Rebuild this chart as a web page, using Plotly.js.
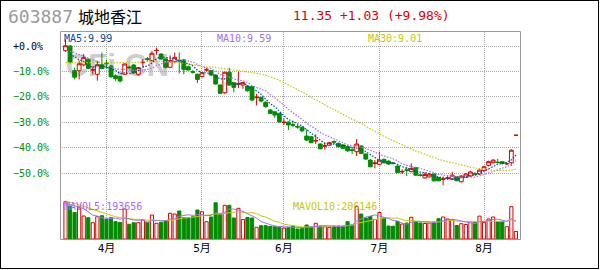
<!DOCTYPE html>
<html>
<head>
<meta charset="utf-8">
<script src="https://cdn.plot.ly/plotly-3.0.1.min.js"></script>
<style>
  html, body { margin: 0; padding: 0; background: #ffffff; }
  #wrap { position: relative; width: 600px; height: 270px; }
  #chart { width: 600px; height: 270px; }
  #edge { position: absolute; left: 0; top: 0; width: 597px; height: 267px;
          border: 1px solid #000000; pointer-events: none; }
</style>
</head>
<body>
<div id="wrap"><div id="chart"></div><div id="edge"></div></div>
<script>
// ---- daily quotes, 603887 城地香江 (oldest first) ----
const opens = [
  17.18,17.50,15.80,15.80,16.20,16.58,15.84,15.55,16.20,16.32,
  16.12,15.45,15.39,15.55,16.05,16.19,15.55,16.35,16.62,16.49,
  17.18,16.95,16.60,16.03,16.42,16.52,16.54,16.07,15.72,15.55,
  15.39,15.84,15.80,15.50,14.81,14.28,15.69,14.97,14.86,14.81,
  14.74,14.70,13.94,13.96,13.62,13.09,12.97,12.86,12.22,12.26,
  12.08,11.96,11.90,11.30,11.25,10.95,10.75,10.59,10.66,10.92,
  10.79,10.68,10.56,10.35,10.22,10.61,10.06,9.64,9.40,9.35,
  9.69,9.57,9.44,9.23,8.82,8.97,8.84,9.13,8.62,8.41,
  8.48,8.67,8.44,8.30,8.37,8.32,8.49,8.15,8.45,8.54,
  8.70,8.68,8.91,9.28,9.46,9.50,9.53,9.38,9.46,11.35
];
const highs = [
  17.96,17.55,16.00,16.50,16.95,16.65,16.08,16.49,17.04,16.55,
  16.20,15.55,15.45,16.30,16.15,16.25,16.05,16.60,16.75,17.15,
  17.40,17.00,16.65,16.85,17.05,17.05,16.60,16.15,15.85,15.60,
  15.70,16.00,15.85,15.55,14.85,15.72,16.00,15.00,15.73,15.00,
  14.80,14.75,14.20,14.00,13.70,13.15,13.00,12.90,12.50,12.30,
  12.35,12.10,11.95,11.76,11.30,11.41,10.80,10.86,10.90,11.00,
  10.85,10.72,10.60,10.56,11.09,10.65,10.10,9.70,9.64,10.22,
  9.75,9.62,9.50,9.25,9.00,9.18,9.41,9.16,8.71,8.79,
  8.76,8.74,8.46,8.51,8.56,8.83,8.52,8.60,8.75,8.90,
  8.80,9.00,9.25,9.60,9.70,9.73,9.55,9.45,10.38,11.35
];
const lows = [
  17.10,16.30,15.20,15.20,16.10,15.90,15.55,15.11,15.90,15.95,
  15.30,15.10,15.00,15.50,15.90,15.60,15.45,16.00,16.40,16.45,
  16.90,16.55,15.95,15.98,16.30,15.60,15.55,15.80,15.60,14.95,
  15.35,15.75,15.45,14.85,14.20,14.20,14.75,14.30,14.60,14.55,
  14.35,13.70,13.40,13.60,13.25,12.80,12.55,12.20,12.05,11.71,
  11.90,11.80,11.55,10.95,10.80,10.75,10.38,10.35,10.60,10.70,
  10.50,10.40,10.20,10.05,9.92,10.05,9.65,9.15,9.07,9.30,
  9.40,9.30,9.35,8.75,8.68,8.54,8.80,8.56,8.51,8.36,
  8.44,8.16,8.18,7.91,8.26,8.26,8.18,8.10,8.40,8.50,
  8.60,8.62,8.88,9.20,9.40,9.40,9.33,9.30,9.25,11.35
];
const closes = [
  17.52,16.40,15.35,16.28,16.70,15.96,15.87,16.20,15.95,16.28,
  15.39,15.25,15.09,16.26,16.00,15.66,16.01,16.38,16.58,17.00,
  17.20,16.60,16.03,16.49,16.72,16.48,15.89,15.85,15.70,15.20,
  15.66,15.86,15.50,14.88,14.24,15.69,14.81,14.65,14.90,14.97,
  14.42,13.78,13.98,13.71,13.32,12.86,12.74,12.28,12.25,12.06,
  12.04,11.92,11.66,11.02,10.84,10.99,10.42,10.63,10.84,10.88,
  10.56,10.45,10.28,10.31,10.75,10.10,9.71,9.18,9.44,9.64,
  9.46,9.37,9.40,8.77,8.86,8.93,9.07,8.60,8.58,8.65,
  8.67,8.21,8.21,8.34,8.41,8.60,8.22,8.54,8.68,8.82,
  8.66,8.95,9.18,9.53,9.64,9.47,9.41,9.40,10.32,11.35
];
const volumes = [
  416600,368500,296000,357400,256900,237900,182000,249000,260200,220000,
  237900,193200,186500,335000,164200,182000,182000,212200,186500,268000,
  175300,186500,201000,287000,279200,312700,237900,237900,249000,323900,
  304900,193200,245700,404300,273600,376400,376400,234500,342900,217800,
  240100,234500,130700,148500,148500,141800,141800,130700,122800,130700,
  145200,111700,119500,156400,130700,175300,145200,137400,130700,145200,
  145200,145200,193200,156400,360700,279200,234500,251300,217800,296000,
  231200,145200,143000,195400,167500,178700,242300,193200,178700,173100,
  178700,189900,226700,245700,223400,217800,150800,170900,161900,193200,
  182040,255570,186510,223360,245700,193210,193210,137370,360730,83760
];

// averages for the first days of the window (their look-back lies before it)
const ma5Head  = [null, 16.95, 16.75, 16.55];
const ma10Head = [null, 17.15, 17.05, 16.90, 16.80, 16.65, 16.52, 16.42, 16.33];
const ma30Head = [16.36,16.36,16.35,16.35,16.34,16.34,16.33,16.33,16.32,16.32,
                  16.32,16.31,16.31,16.32,16.33,16.35,16.38,16.42,16.45,16.46,
                  16.46,16.45,16.44,16.42,16.40,16.36,16.31,16.26,16.20];
const mavol5Head  = [402000, 385300, 368500, 351800];
const mavol10Head = [424400, 413200, 396500, 379700, 363000, 346200, 329500, 312700, 299300];

// axis labels
const monthTickIdx = [9, 30, 48, 69, 92];
const monthLabels  = ['4月', '5月', '6月', '7月', '8月'];
const priceTicks   = [17.50, 15.75, 14.00, 12.25, 10.50, 8.75];
const priceLabels  = ['17.50', '15.75', '14.00', '12.25', '10.50', '8.75'];
const pctLabels    = ['+0.0%', '\u221210.0%', '\u221220.0%', '\u221230.0%', '\u221240.0%', '\u221250.0%'];

const stockCode = '603887';
const stockName = '城地香江';

// ---- styling ----
const RED = '#dd0000';
const GREEN = '#008c00';
const AXIS_GREEN = '#009000';
const MA5_C = '#004c99';
const MA10_C = '#a86cf4';
const MA30_C = '#c8c800';
const GRID = '#a8a8a8';
const MONO = 'DejaVu Sans Mono, Liberation Mono, monospace';
const MA_DASH = '1.5px,1.5px';

// ---- derived series ----
const idx = closes.map((_, i) => i);

function movingAvg(src, n, head) {
  return src.map((_, i) => {
    if (i < n - 1) return head[i];
    let s = 0;
    for (let k = i - n + 1; k <= i; k++) s += src[k];
    return s / n;
  });
}
const ma5 = movingAvg(closes, 5, ma5Head);
const ma10 = movingAvg(closes, 10, ma10Head);
const ma30 = movingAvg(closes, 30, ma30Head);
const mavol5 = movingAvg(volumes, 5, mavol5Head);
const mavol10 = movingAvg(volumes, 10, mavol10Head);

// up day: close above open, or unchanged open/close above the previous close
const isUp = closes.map((c, i) => c > opens[i] || (c === opens[i] && i > 0 && c > closes[i - 1]));
const volFill = isUp.map(u => (u ? '#ffffff' : GREEN));
const volLine = isUp.map(u => (u ? RED : GREEN));

const last = closes.length - 1;
const chg = closes[last] - closes[last - 1];
const chgPct = chg / closes[last - 1] * 100;
const quoteText = closes[last].toFixed(2) + ' ' + (chg >= 0 ? '+' : '') + chg.toFixed(2) +
  ' (' + (chgPct >= 0 ? '+' : '') + chgPct.toFixed(2) + '%)';

// ---- frame geometry (pixels) ----
const PL = 60, PR = 520, PT = 32, PB = 239;
const VOL_TOP = 40 / (PB - PT);          // volume panel share of the plot height
const X_RANGE = [-1.21, 99.9];
const P_RANGE = [6.959, 18.465];
const V_RANGE = [0, 446720];
const fx = x => (x - PL) / (PR - PL);
const fy = y => (PB - y) / (PB - PT);

function tag(text, x, y, color, size, family) {
  return {
    text: text, x: fx(x), y: fy(y), xref: 'paper', yref: 'paper',
    xanchor: 'left', yanchor: 'middle', showarrow: false, borderpad: 0,
    font: { family: family || MONO, size: size || 10, color: color }
  };
}

const traces = [
  {
    type: 'candlestick', x: idx, open: opens, high: highs, low: lows, close: closes,
    xaxis: 'x', yaxis: 'y', whiskerwidth: 0, hoverinfo: 'skip',
    increasing: { line: { color: RED, width: 1 }, fillcolor: '#ffffff' },
    decreasing: { line: { color: GREEN, width: 1 }, fillcolor: GREEN }
  },
  { type: 'scatter', mode: 'lines', x: idx, y: ma30, xaxis: 'x', yaxis: 'y', hoverinfo: 'skip',
    line: { color: MA30_C, width: 1.2, dash: MA_DASH } },
  { type: 'scatter', mode: 'lines', x: idx, y: ma10, xaxis: 'x', yaxis: 'y', hoverinfo: 'skip',
    line: { color: MA10_C, width: 1.2, dash: MA_DASH } },
  { type: 'scatter', mode: 'lines', x: idx, y: ma5, xaxis: 'x', yaxis: 'y', hoverinfo: 'skip',
    line: { color: MA5_C, width: 1.2, dash: MA_DASH } },
  {
    type: 'bar', x: idx, y: volumes, xaxis: 'x2', yaxis: 'y3', width: 0.7, hoverinfo: 'skip',
    marker: { color: volFill, line: { color: volLine, width: 1 } }
  },
  { type: 'scatter', mode: 'lines', x: idx, y: mavol10, xaxis: 'x2', yaxis: 'y3', hoverinfo: 'skip',
    line: { color: MA30_C, width: 1 } },
  { type: 'scatter', mode: 'lines', x: idx, y: mavol5, xaxis: 'x2', yaxis: 'y3', hoverinfo: 'skip',
    line: { color: MA10_C, width: 1 } }
];

const firstBlack = (labels) => labels.map((t, i) => (i === 0 ? '<span style="color:#000000">' + t + '</span>' : t));

const layout = {
  width: 600, height: 270,
  margin: { l: PL, r: 600 - PR, t: PT, b: 270 - PB, pad: 0 },
  paper_bgcolor: '#ffffff', plot_bgcolor: '#ffffff',
  showlegend: false, dragmode: false, hovermode: false,
  font: { family: MONO, size: 10, color: '#000000' },
  boxgap: 0.12, boxgroupgap: 0.05,
  xaxis: {
    domain: [0, 1], anchor: 'y', range: X_RANGE, fixedrange: true,
    tickmode: 'array', tickvals: monthTickIdx, showticklabels: false, ticks: '',
    showgrid: true, gridcolor: GRID, gridwidth: 1, griddash: '1px,1px',
    zeroline: false, showline: false, rangeslider: { visible: false }
  },
  yaxis: {
    domain: [VOL_TOP, 1], anchor: 'x', range: P_RANGE, side: 'left', fixedrange: true,
    tickmode: 'array', tickvals: priceTicks,
    ticktext: firstBlack(pctLabels.map((t, i) => (i === 0 ? t + '\u00a0' : t))),
    tickfont: { family: MONO, size: 10, color: AXIS_GREEN }, ticks: '', ticklabelstandoff: 10,
    showgrid: true, gridcolor: GRID, gridwidth: 1, griddash: '1px,1px',
    zeroline: false, showline: false
  },
  yaxis2: {
    overlaying: 'y', anchor: 'x', side: 'right', range: P_RANGE, fixedrange: true,
    tickmode: 'array', tickvals: priceTicks, ticktext: firstBlack(priceLabels),
    tickfont: { family: MONO, size: 10, color: AXIS_GREEN }, ticks: '', ticklabelstandoff: 2,
    showgrid: false, zeroline: false, showline: false
  },
  xaxis2: {
    domain: [0, 1], anchor: 'y3', range: X_RANGE, fixedrange: true,
    tickmode: 'array', tickvals: monthTickIdx, ticktext: monthLabels, ticks: '',
    tickfont: { family: 'DejaVu Sans Mono, Noto Sans CJK SC', size: 11, color: '#000000' },
    ticklabelstandoff: 1,
    showgrid: true, gridcolor: GRID, gridwidth: 1, griddash: '1px,1px',
    zeroline: false, showline: false
  },
  yaxis3: {
    domain: [0, VOL_TOP], anchor: 'x2', range: V_RANGE, fixedrange: true,
    showticklabels: false, ticks: '', showgrid: false, zeroline: false, showline: false
  },
  shapes: [
    {
      type: 'rect', xref: 'paper', yref: 'paper', layer: 'below',
      x0: fx(67), x1: fx(168), y0: fy(76), y1: fy(49),
      line: { width: 0 }, fillcolor: 'rgba(0,0,0,0)',
      label: { text: 'CFi.CN', textposition: 'middle center',
               font: { family: 'Liberation Sans, Arial, sans-serif', size: 31, weight: 'bold', color: '#cdcdcd' } }
    },
    {
      type: 'rect', xref: 'paper', yref: 'paper', layer: 'above',
      x0: fx(PL + 0.5), x1: fx(PR + 0.5), y0: fy(PB + 0.5), y1: fy(PT - 0.5),
      line: { color: '#999999', width: 1 }, fillcolor: 'rgba(0,0,0,0)'
    }
  ],
  annotations: [
    tag(stockCode, 7, 16.5, '#9a9a9a', 18),
    tag(stockName, 77, 15.5, '#000000', 16, 'Noto Sans CJK SC'),
    tag(quoteText, 292, 15, RED, 13),
    tag('MA5:' + ma5[last].toFixed(2), 63, 38, MA5_C, 10),
    tag('MA10:' + ma10[last].toFixed(2), 216, 38, MA10_C, 10),
    tag('MA30:' + ma30[last].toFixed(2), 367, 38, MA30_C, 10),
    tag('MAVOL5:' + Math.round(mavol5[last]), 63, 206, MA10_C, 10),
    tag('MAVOL10:' + Math.round(mavol10[last]), 292, 206, MA30_C, 10)
  ]
};

Plotly.newPlot('chart', traces, layout, { displayModeBar: false, staticPlot: true });
</script>
</body>
</html>
